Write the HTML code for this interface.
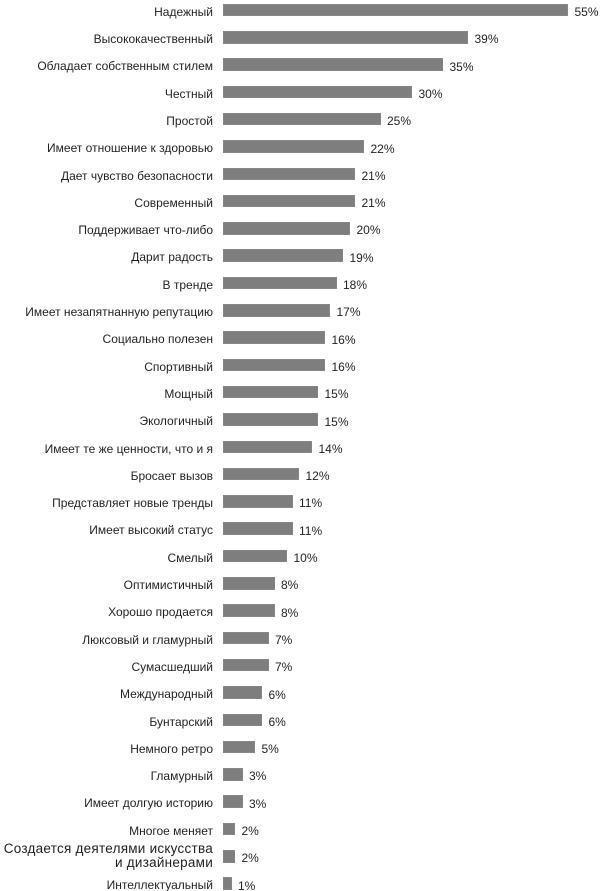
<!DOCTYPE html>
<html><head><meta charset="utf-8">
<style>
html,body{margin:0;padding:0;background:#fff;}
#c{position:relative;width:600px;height:891px;overflow:hidden;background:#fff;font-family:"Liberation Sans","DejaVu Sans",sans-serif;color:#231f20;}
.l{position:absolute;right:387px;height:14px;line-height:14px;font-size:12px;white-space:nowrap;text-align:right;}
.b{position:absolute;left:223px;height:12.5px;background:#7e7e7e;box-shadow:inset 0 0 0 0.6px #8c8c8c;}
.p{position:absolute;height:14px;line-height:14px;font-size:12px;white-space:nowrap;}
.big{font-size:13.5px;line-height:14px;height:28px;letter-spacing:0.25px;}
</style></head><body>
<div id="c"></div>
<script>
var d=[
["Надежный",55,345],
["Высококачественный",39,245],
["Обладает собственным стилем",35,220],
["Честный",30,189],
["Простой",25,157.5],
["Имеет отношение к здоровью",22,141],
["Дает чувство безопасности",21,132],
["Современный",21,132],
["Поддерживает что-либо",20,127],
["Дарит радость",19,120],
["В тренде",18,113.5],
["Имеет незапятнанную репутацию",17,107],
["Социально полезен",16,102],
["Спортивный",16,102],
["Мощный",15,95],
["Экологичный",15,95],
["Имеет те же ценности, что и я",14,89],
["Бросает вызов",12,76],
["Представляет новые тренды",11,69.5],
["Имеет высокий статус",11,69.5],
["Смелый",10,64],
["Оптимистичный",8,51.5],
["Хорошо продается",8,51.5],
["Люксовый и гламурный",7,45.5],
["Сумасшедший",7,45.5],
["Международный",6,39],
["Бунтарский",6,39],
["Немного ретро",5,32],
["Гламурный",3,19.5],
["Имеет долгую историю",3,19.5],
["Многое меняет",2,12],
["BIG",2,12],
["Интеллектуальный",1,8.5]
];
var c=document.getElementById('c');
var h='';
for(var i=0;i<d.length;i++){
 var y=10+27.3*i;
 var w=d[i][2];
 h+='<div class="b" style="top:'+(y-6.3).toFixed(1)+'px;width:'+w+'px"></div>';
 if(d[i][0]==="BIG"){
  h+='<div class="l big" style="top:'+(y-14.5).toFixed(1)+'px">Создается деятелями искусства<br>и дизайнерами</div>';
 } else {
  h+='<div class="l" style="top:'+(y-5.3).toFixed(1)+'px">'+d[i][0]+'</div>';
 }
 h+='<div class="p" style="top:'+(y-5.0).toFixed(1)+'px;left:'+(223+w+6.5).toFixed(1)+'px">'+d[i][1]+'%</div>';
}
c.innerHTML=h;
</script>
</body></html>
